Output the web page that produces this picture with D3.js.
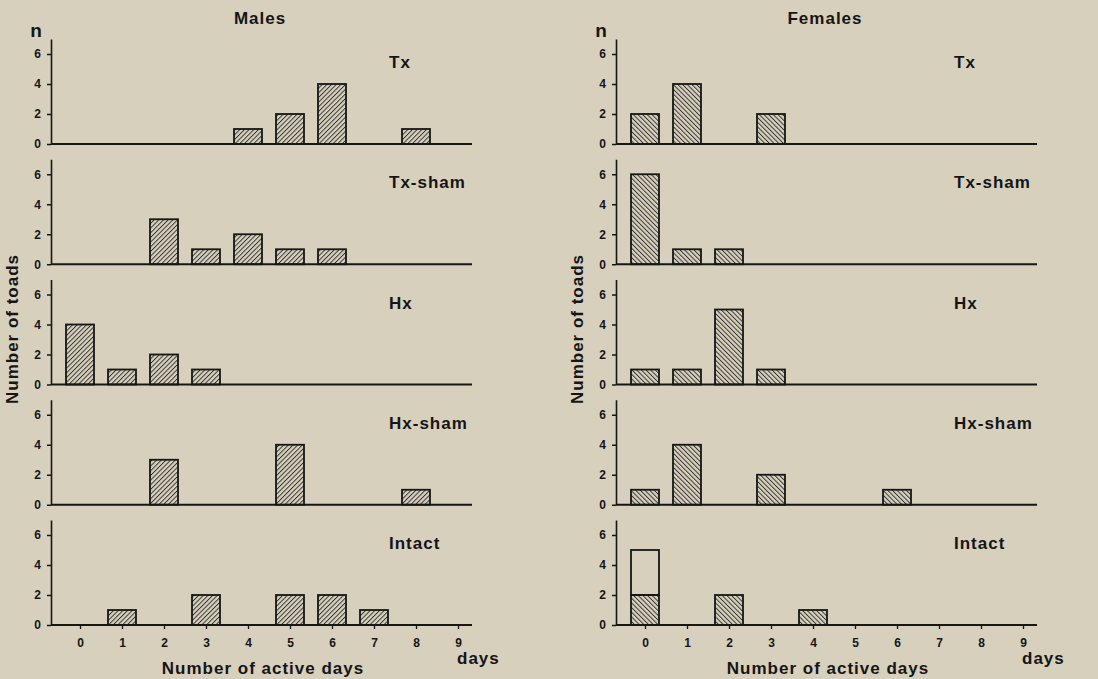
<!DOCTYPE html>
<html>
<head>
<meta charset="utf-8">
<script src="https://cdn.jsdelivr.net/npm/d3@7/dist/d3.min.js"></script>
<style>
  html, body { margin: 0; padding: 0; background: #d7d0bd; }
  svg { display: block; }
  text { font-family: "Liberation Sans", Arial, sans-serif; font-weight: bold; fill: #151515; }
</style>
</head>
<body>
<svg id="chart" width="1098" height="679"></svg>
<script>
// ---------- data ----------
const days = [0, 1, 2, 3, 4, 5, 6, 7, 8, 9];
const groups = ["Tx", "Tx-sham", "Hx", "Hx-sham", "Intact"];
const yTicks = [0, 2, 4, 6];

// Males: number of toads per number of active days (0..9)
const maleTx      = [0, 0, 0, 0, 1, 2, 4, 0, 1, 0];
const maleTxSham  = [0, 0, 3, 1, 2, 1, 1, 0, 0, 0];
const maleHx      = [4, 1, 2, 1, 0, 0, 0, 0, 0, 0];
const maleHxSham  = [0, 0, 3, 0, 0, 4, 0, 0, 1, 0];
const maleIntact  = [0, 1, 0, 2, 0, 2, 2, 1, 0, 0];

// Females
const femaleTx     = [2, 4, 0, 2, 0, 0, 0, 0, 0, 0];
const femaleTxSham = [6, 1, 1, 0, 0, 0, 0, 0, 0, 0];
const femaleHx     = [1, 1, 5, 1, 0, 0, 0, 0, 0, 0];
const femaleHxSham = [1, 4, 0, 2, 0, 0, 1, 0, 0, 0];
const femaleIntact = [2, 0, 2, 0, 1, 0, 0, 0, 0, 0];
// unhatched portion stacked on top (Intact females, day 0)
const femaleIntactOpen = [3, 0, 0, 0, 0, 0, 0, 0, 0, 0];

const columns = [
  { title: "Males",   pattern: "hatchM", axisX: 51,  series: [maleTx, maleTxSham, maleHx, maleHxSham, maleIntact], open: null },
  { title: "Females", pattern: "hatchF", axisX: 616, series: [femaleTx, femaleTxSham, femaleHx, femaleHxSham, femaleIntact], open: femaleIntactOpen }
];

// ---------- drawing ----------
const svg = d3.select("#chart");
const ink = "#161616";

const defs = svg.append("defs");
function hatch(id, angle) {
  const p = defs.append("pattern")
    .attr("id", id)
    .attr("patternUnits", "userSpaceOnUse")
    .attr("width", 3.3).attr("height", 10)
    .attr("patternTransform", `rotate(${angle})`);
  p.append("rect").attr("width", 3.3).attr("height", 10).attr("fill", "#d7d0bd");
  p.append("line").attr("x1", 0.5).attr("y1", 0).attr("x2", 0.5).attr("y2", 10)
    .attr("stroke", "#2a2a2a").attr("stroke-width", 0.9);
}
hatch("hatchM", 45);
hatch("hatchF", -45);

const baseY = d3.scalePoint().domain(groups).range([144, 625]);
const unitsTop = 7;
const axisLen = 421;

columns.forEach((col) => {
  const x0 = col.axisX;
  const x = d3.scaleLinear().domain([0, 9]).range([x0 + 29, x0 + 29 + 378]);
  const barW = 28;

  // column title
  svg.append("text")
    .attr("x", x0 + 209).attr("y", 24)
    .attr("text-anchor", "middle")
    .style("font-size", "17px").style("letter-spacing", "1px")
    .text(col.title);

  // "n" label
  svg.append("text")
    .attr("x", x0 - 15).attr("y", 37)
    .attr("text-anchor", "middle")
    .style("font-size", "19px")
    .text("n");

  // y axis title
  svg.append("text")
    .attr("transform", `translate(${x0 - 33},${329}) rotate(-90)`)
    .attr("text-anchor", "middle")
    .style("font-size", "17px").style("letter-spacing", "1px")
    .text("Number of toads");

  groups.forEach((g, gi) => {
    const b = baseY(g);
    const y = d3.scaleLinear().domain([0, unitsTop]).range([b, b - 105]);
    const panel = svg.append("g");

    // y axis
    const ya = panel.append("g")
      .attr("transform", `translate(${x0},0)`)
      .call(d3.axisLeft(y).tickValues(yTicks).tickFormat(d3.format("d")).tickSize(4).tickPadding(6).tickSizeOuter(0));
    ya.select(".domain").attr("stroke", ink).attr("stroke-width", 1.6);
    ya.selectAll(".tick line").attr("stroke", ink).attr("stroke-width", 1.5);
    ya.selectAll(".tick text")
      .style("font-size", "12px").style("font-family", "Liberation Sans, Arial, sans-serif")
      .style("font-weight", "bold").attr("fill", ink);

    // bars
    const vals = col.series[gi];
    const data = days.map((d, i) => ({ d, v: vals[i] })).filter(o => o.v > 0);
    panel.selectAll("rect.bar").data(data).enter().append("rect")
      .attr("class", "bar")
      .attr("x", o => x(o.d) - barW / 2)
      .attr("width", barW)
      .attr("y", o => y(o.v))
      .attr("height", o => y(0) - y(o.v))
      .attr("fill", `url(#${col.pattern})`)
      .attr("stroke", ink).attr("stroke-width", 1.8);

    if (col.open && gi === groups.length - 1) {
      const od = days.map((d, i) => ({ d, lo: vals[i], v: col.open[i] })).filter(o => o.v > 0);
      panel.selectAll("rect.open").data(od).enter().append("rect")
        .attr("class", "open")
        .attr("x", o => x(o.d) - barW / 2)
        .attr("width", barW)
        .attr("y", o => y(o.lo + o.v))
        .attr("height", o => y(o.lo) - y(o.lo + o.v))
        .attr("fill", "none")
        .attr("stroke", ink).attr("stroke-width", 1.8);
    }

    // x baseline
    if (gi === groups.length - 1) {
      const xa = panel.append("g")
        .attr("transform", `translate(0,${b})`)
        .call(d3.axisBottom(x).tickValues(days).tickFormat(d3.format("d")).tickSize(4).tickPadding(9).tickSizeOuter(0));
      xa.select(".domain").remove();
      xa.selectAll(".tick line").attr("stroke", ink).attr("stroke-width", 1.3);
      xa.selectAll(".tick text")
        .style("font-size", "12px").style("font-family", "Liberation Sans, Arial, sans-serif")
        .style("font-weight", "bold").attr("fill", ink);
    }
    panel.append("line")
      .attr("x1", x0).attr("x2", x0 + axisLen)
      .attr("y1", b).attr("y2", b)
      .attr("stroke", ink).attr("stroke-width", 2);

    // group label
    panel.append("text")
      .attr("x", x0 + 338).attr("y", b - 76)
      .style("font-size", "17px").style("letter-spacing", "1px")
      .text(g);
  });

  // x axis titles
  svg.append("text")
    .attr("x", x0 + 212).attr("y", 674)
    .attr("text-anchor", "middle")
    .style("font-size", "17px").style("letter-spacing", "1px")
    .text("Number of active days");
  svg.append("text")
    .attr("x", x0 + 406).attr("y", 664)
    .style("font-size", "17px").style("letter-spacing", "1px")
    .text("days");
});
</script>
</body>
</html>
